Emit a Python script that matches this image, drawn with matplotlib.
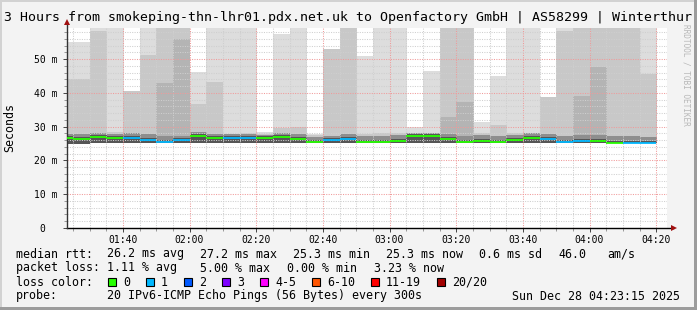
import numpy as np
import pandas as pd
import matplotlib
matplotlib.use('Agg')
import matplotlib.pyplot as plt
import matplotlib.dates as mdates
from matplotlib.patches import Rectangle
from matplotlib.ticker import MultipleLocator

plt.rcParams['font.family'] = ['DejaVu Sans Mono']

# 5 minute steps, the first one is cut by the left edge of the graph
bin_start = pd.date_range('2025-12-28 01:20', periods=36, freq='5min')

median_ms = [26.6, 26.2, 26.8, 26.5, 26.7, 26.1, 25.5, 26.1, 27.1, 26.7,
             26.5, 26.5, 26.5, 26.8, 26.4, 25.5, 26.1, 26.4, 25.4, 25.4,
             25.8, 27.1, 27.2, 26.4, 25.4, 25.8, 25.4, 26.1, 26.6, 26.4,
             25.4, 25.8, 25.8, 25.3, 25.3, 25.3]
lost = [0, 0, 0, 0, 1, 1, 1, 1, 0, 0,
        1, 1, 0, 0, 0, 0, 1, 1, 0, 0,
        0, 0, 0, 0, 0, 0, 0, 0, 0, 1,
        1, 1, 0, 0, 1, 1]

# smoke: lightest layer top, medium layer top, darker layer top (0 = none)
smoke_hi = [55.0, 55.0, 62, 62, 40.6, 62, 62, 62, 46.2, 62,
            62, 62, 28.5, 57.4, 62, 27.8, 52.9, 62, 50.9, 62,
            62, 29.9, 46.5, 62, 62, 31.5, 45.1, 62, 62, 38.9,
            62, 62, 62, 62, 62, 62]
smoke_mid = [44.0, 44.0, 58.3, 28.5, 40.6, 51.2, 62, 62, 36.7, 43.1,
             27.8, 28.0, 27.8, 29.6, 30.0, 27.5, 52.9, 62, 27.8, 28.1,
             28.1, 28.2, 28.0, 62, 62, 28.2, 30.5, 28.1, 28.2, 38.9,
             58.4, 62, 62, 62, 62, 45.6]
smoke_dark = [0, 0, 0, 0, 0, 0, 43.0, 55.9, 0, 0,
              0, 0, 0, 0, 0, 0, 0, 0, 0, 0,
              0, 0, 0, 33.0, 37.4, 0, 0, 0, 0, 0,
              0, 39.2, 47.7, 0, 0, 0]
band_top = [27.8, 27.8, 28.2, 27.9, 28.0, 27.8, 27.1, 27.3, 28.5, 27.8,
            27.8, 27.8, 27.6, 28.2, 27.8, 27.0, 27.3, 27.8, 27.1, 27.1,
            27.5, 28.2, 28.2, 27.8, 27.1, 27.5, 27.1, 27.5, 28.0, 27.8,
            27.1, 27.5, 27.6, 27.1, 27.1, 26.9]
smoke_lo = [25.0, 25.0, 25.1, 25.1, 25.1, 25.1, 25.2, 25.1, 25.1, 25.1,
            25.1, 25.1, 25.1, 25.1, 25.1, 25.2, 25.1, 25.1, 25.2, 25.2,
            25.2, 25.2, 25.2, 25.2, 25.2, 25.2, 25.2, 25.2, 25.2, 25.2,
            25.2, 25.2, 25.2, 25.3, 25.3, 25.3]

loss_labels = ['0', '1', '2', '3', '4-5', '6-10', '11-19', '20/20']
loss_colors = ['#26ff00', '#00b8ff', '#0059ff', '#7e00ff', '#ff00ff',
               '#ff5500', '#ff0000', '#a10000']

y_ticks = [0, 10, 20, 30, 40, 50]
y_ticklabels = ['0  ', '10 m', '20 m', '30 m', '40 m', '50 m']
x_ticks = pd.date_range('2025-12-28 01:40', '2025-12-28 04:20', freq='20min')

title = '3 Hours from smokeping-thn-lhr01.pdx.net.uk to Openfactory GmbH | AS58299 | Winterthur'
rtt_row = ['median rtt:', '26.2 ms avg', '27.2 ms max', '25.3 ms min',
           '25.3 ms now', '0.6 ms sd', '46.0', 'am/s']
loss_row = ['packet loss:', '1.11 % avg', '5.00 % max', '0.00 % min', '3.23 % now']
probe_text = '20 IPv6-ICMP Echo Pings (56 Bytes) every 300s'
stamp = 'Sun Dec 28 04:23:15 2025'
t_end = pd.Timestamp('2025-12-28 04:23:15')

W, H = 697, 310
fig = plt.figure(figsize=(W / 100, H / 100), dpi=100, facecolor='#f3f3f3')
ax = fig.add_axes([67 / W, 82 / H, 600 / W, 200 / H])
ax.set_facecolor('white')


def px(x, y):
    return x / W, 1 - y / H


x = mdates.date2num(bin_start)
w = 5 / 1440
lo = np.array(smoke_lo)
med = np.array(median_ms)
# a touch wider than the step so neighbouring columns leave no seam
bar_kw = dict(width=w * 1.04, align='edge', lw=0, antialiased=False)

ax.bar(x, np.array(smoke_hi) - lo, bottom=lo, color='#dddddd', **bar_kw)
ax.bar(x, np.array(smoke_mid) - lo, bottom=lo, color='#c8c8c8', **bar_kw)
dk = np.array(smoke_dark)
has_dark = dk > 0
ax.bar(x[has_dark], dk[has_dark] - lo[has_dark], bottom=lo[has_dark],
       color='#b4b4b4', **bar_kw)
ax.bar(x, np.array(band_top) - lo, bottom=lo, color='#8e8e8e', **bar_kw)
ax.bar(x, med + 0.6 - lo, bottom=lo, color='#555555', **bar_kw)

line_colors = [loss_colors[n] for n in lost]
ax.hlines(med, x, x + w, colors=line_colors, lw=1.3, zorder=3)

ax.set_xlim(mdates.date2num(t_end - pd.Timedelta(hours=3)), mdates.date2num(t_end))
ax.set_ylim(0, 59.2)

ax.set_xticks(mdates.date2num(x_ticks))
ax.set_xticklabels([t.strftime('%H:%M') for t in x_ticks])
ax.xaxis.set_minor_locator(mdates.MinuteLocator(byminute=range(0, 60, 5)))
ax.set_yticks(y_ticks)
ax.set_yticklabels(y_ticklabels)
ax.yaxis.set_minor_locator(MultipleLocator(2))

ax.set_axisbelow('line')
ax.grid(which='minor', color='#cfcfcf', ls=(0, (1, 1.3)), lw=0.75)
ax.grid(which='major', color='#f09a9a', ls=(0, (1, 1.3)), lw=0.75)

ax.tick_params(which='major', length=3, width=0.7, color='#444444', labelsize=7)
ax.tick_params(which='minor', length=2, width=0.6, color='#888888')
ax.tick_params(axis='x', pad=2)
ax.tick_params(axis='y', pad=3.5)

for s in ax.spines.values():
    s.set_visible(False)
ax.plot([0, 1.01], [0, 0], transform=ax.transAxes, clip_on=False, color='black', lw=1)
ax.plot([0, 0], [0, 1.025], transform=ax.transAxes, clip_on=False, color='#333333', lw=1)
ax.plot([1.012], [0], transform=ax.transAxes, clip_on=False, marker='>', ms=4.5,
        color='#a01010', mew=0)
ax.plot([0], [1.03], transform=ax.transAxes, clip_on=False, marker='^', ms=4.5,
        color='#a01010', mew=0)

fig.text(*px(348.5, 17), title, fontsize=9.5, ha='center', va='center')
fig.text(*px(10, 127), 'Seconds', fontsize=8.4, rotation=90, ha='center', va='center')
fig.text(*px(686, 24), 'RRDTOOL / TOBI OETIKER', fontsize=5.6, rotation=-90,
         ha='center', va='top', color='#b8b8b8')

fs = 8.4
for xp, s in zip([16, 107, 200, 293, 386, 479, 558, 607], rtt_row):
    fig.text(*px(xp, 254), s, fontsize=fs, va='center')
for xp, s in zip([16, 107, 200, 287, 374], loss_row):
    fig.text(*px(xp, 268), s, fontsize=fs, va='center')
fig.text(*px(16, 282), 'loss color:', fontsize=fs, va='center')
xs = 108
for lab, col in zip(loss_labels, loss_colors):
    fig.add_artist(Rectangle(px(xs, 286), 8 / W, 8 / H, transform=fig.transFigure,
                             fc=col, ec='black', lw=0.8))
    fig.text(*px(xs + 15, 282), lab, fontsize=fs, va='center')
    xs += 15 + 7 * len(lab) + 16
fig.text(*px(16, 296), 'probe:', fontsize=fs, va='center')
fig.text(*px(107, 296), probe_text, fontsize=fs, va='center')
fig.text(*px(680, 296), stamp, fontsize=fs, va='center', ha='right')

# 3d frame around the image
fig.add_artist(Rectangle((0, 1 - 2 / H), 1, 2 / H, transform=fig.transFigure, fc='#d2d2d2', lw=0))
fig.add_artist(Rectangle((0, 0), 2 / W, 1, transform=fig.transFigure, fc='#d2d2d2', lw=0))
fig.add_artist(Rectangle((0, 0), 1, 3 / H, transform=fig.transFigure, fc='#9c9c9c', lw=0))
fig.add_artist(Rectangle((1 - 3 / W, 0), 3 / W, 1, transform=fig.transFigure, fc='#9c9c9c', lw=0))

fig.savefig('out.png', dpi=100, facecolor=fig.get_facecolor())
